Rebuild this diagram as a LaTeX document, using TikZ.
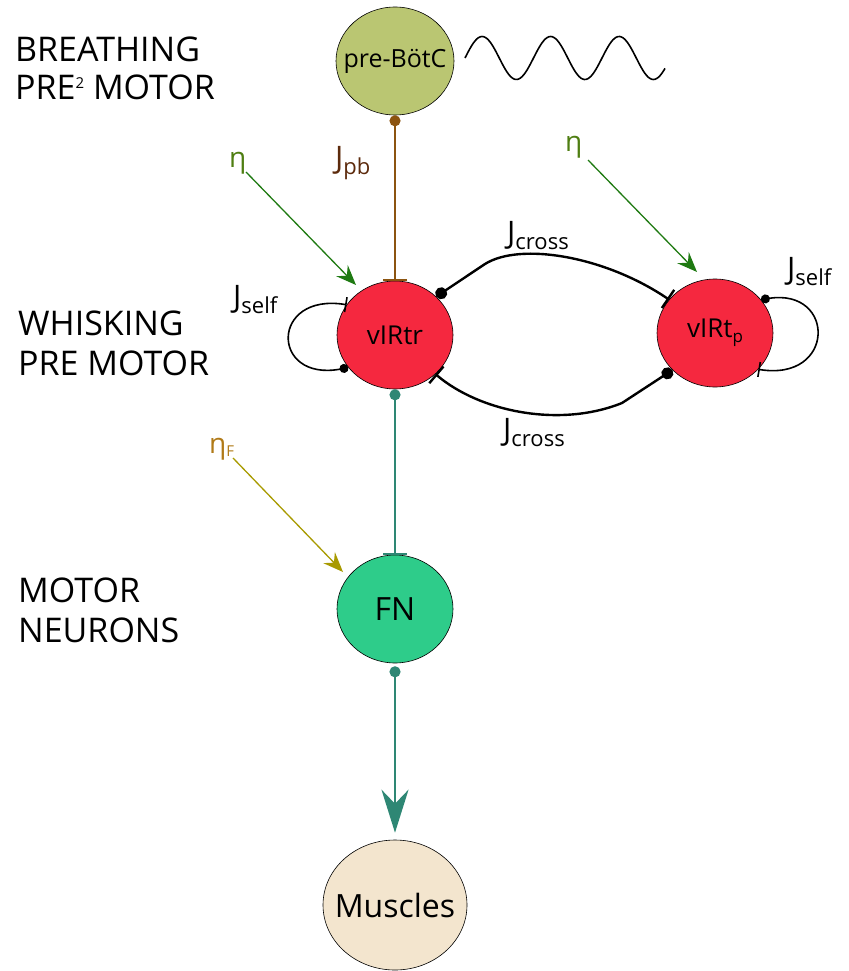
\documentclass[tikz,border=0pt]{standalone}
\usepackage{fontspec}
\setmainfont{Open Sans}
\usetikzlibrary{arrows.meta,shapes.geometric}
\definecolor{cpre}{HTML}{BAC672}
\definecolor{cred}{HTML}{F5283F}
\definecolor{cfn}{HTML}{2ECC8A}
\definecolor{cmus}{HTML}{F3E5CE}
\definecolor{cbrown}{HTML}{8C5410}
\definecolor{cjpb}{HTML}{5C2A0C}
\definecolor{cteal}{HTML}{2E8774}
\definecolor{cgreen}{HTML}{1F7A12}
\definecolor{cetagreen}{HTML}{4F7E12}
\definecolor{cyel}{HTML}{A89A00}
\definecolor{cetaF}{HTML}{B07A18}
\newcommand\jsub[2]{{\fontsize{31}{31}\selectfont #1}\raisebox{-6pt}{\fontsize{22}{22}\selectfont #2}}
\begin{document}
\begin{tikzpicture}[x=1pt,y=-1pt,
  neuron/.style={ellipse, draw=black, line width=0.6pt, inner sep=0pt, minimum width=116pt, minimum height=108pt},
  lbl/.style={anchor=base west, inner sep=0pt, font=\fontsize{34}{34}\selectfont},
  jlab/.style={anchor=base west, inner sep=0pt},
  etalab/.style={anchor=base west, inner sep=0pt, font=\fontsize{28}{28}\selectfont},
  garrow/.style={line width=1.3pt, draw=cgreen, -{Stealth[length=20pt,width=16pt,inset=7pt]}},
  yarrow/.style={line width=1.3pt, draw=cyel, -{Stealth[length=20pt,width=16pt,inset=7pt]}},
  tealline/.style={line width=2pt, draw=cteal},
  crossline/.style={line width=2.4pt, draw=black},
  selfline/.style={line width=1.6pt, draw=black}]
\useasboundingbox (0,0) rectangle (848,971);

% left labels
\node[lbl] (l1a) at (15,62) {BREATHING};
\node[lbl] (l1b) at (15,100) {PRE\raisebox{11pt}{\fontsize{15}{15}\selectfont 2} MOTOR};
\node[lbl] (l2a) at (18,335) {WHISKING};
\node[lbl] (l2b) at (18,375) {PRE MOTOR};
\node[lbl] (l3a) at (18,602) {MOTOR};
\node[lbl] (l3b) at (18,642) {NEURONS};

% neurons
\node[neuron, fill=cpre, minimum width=118pt] (pre) at (395,61) {\makebox[0pt]{\fontsize{25}{25}\selectfont pre-BötC}};
\node[neuron, fill=cred] (vtr) at (395,335) {\makebox[0pt]{\fontsize{26}{26}\selectfont vIRtr}};
\node[neuron, fill=cred] (vtp) at (715,333) {\makebox[0pt]{\fontsize{26}{26}\selectfont vIRt\raisebox{-5pt}{\fontsize{17}{17}\selectfont p}}};
\node[neuron, fill=cfn] (fn) at (395,609) {\makebox[0pt]{\fontsize{32}{32}\selectfont FN}};
\node[neuron, fill=cmus, minimum width=144pt, minimum height=130pt] (mus) at (395,905) {\makebox[0pt]{\fontsize{32}{32}\selectfont Muscles}};

% sine wave
\draw[line width=1.6pt] plot[domain=0:200, samples=120, smooth] ({465+\x}, {58-21.5*sin(\x/68.5*360)});

% breathing input
\draw[line width=2pt, draw=cbrown, {Circle[length=11pt]}-{Bar[width=24pt]}] (pre) -- (vtr);
\node[jlab, text=cjpb] (jpb) at (335,168) {\jsub{J}{pb}};

% eta inputs
\node[etalab, text=cetagreen] (eta1) at (229,167) {η};
\coordinate (e1s) at (246,172);
\coordinate (e1t) at (356,285);
\draw[garrow] (e1s) -- (e1t);
\node[etalab, text=cetagreen] (eta2) at (565,151) {η};
\coordinate (e2s) at (588,160);
\coordinate (e2t) at (697,272);
\draw[garrow] (e2s) -- (e2t);
\node[etalab, text=cetaF] (etaF) at (209,453) {η\raisebox{-3pt}{\fontsize{15}{15}\selectfont F}};
\coordinate (eFs) at (233,458);
\coordinate (eFt) at (343,572);
\draw[yarrow] (eFs) -- (eFt);

% self loops
\draw[selfline, {Bar[width=15pt]}-{Circle[length=9pt]}] (vtr.148) .. controls (270,292) and (270,382) .. (vtr.215);
\draw[selfline, {Circle[length=9pt]}-{Bar[width=15pt]}] (vtp.36) .. controls (836,288) and (836,382) .. (vtp.-40);
\node[jlab] (js1) at (233,307) {\jsub{J}{self}};
\node[jlab] (js2) at (787,279) {\jsub{J}{self}};

% cross connections
\coordinate (ct) at (485,264);
\coordinate (cb) at (622,403);
\draw[crossline, {Circle[length=12pt]}-{Bar[width=22pt]}] (vtr.43) -- (ct) .. controls (520,242) and (605,256) .. (vtp.144);
\draw[crossline, {Bar[width=22pt]}-{Circle[length=12pt]}] (vtr.-44) .. controls (480,412) and (560,428) .. (cb) -- (vtp.221);
\node[jlab] (jc1) at (507,243) {\jsub{J}{cross}};
\node[jlab] (jc2) at (503,440) {\jsub{J}{cross}};

% motor pathway
\draw[tealline, {Circle[length=11pt]}-{Bar[width=24pt]}] (vtr) -- (fn);
\draw[tealline, line width=2.5pt, {Circle[length=11pt]}-{Stealth[length=43pt,width=27pt,inset=14pt]}, shorten >=7pt, shorten <=3pt] (fn) -- (mus);
\end{tikzpicture}
\end{document}
